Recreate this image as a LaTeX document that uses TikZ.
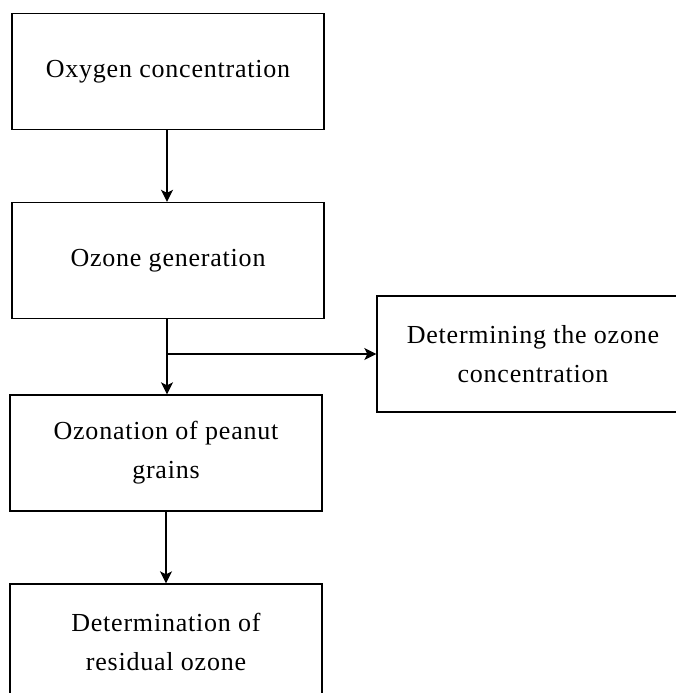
\documentclass[tikz,border=0pt]{standalone}
\usepackage{fontspec}
\setmainfont{Liberation Serif}[LetterSpace=3]
\usetikzlibrary{arrows.meta}
\begin{document}
\begin{tikzpicture}[x=1pt,y=1pt,
  box/.style={draw, line width=1.4pt, minimum width=312pt, minimum height=116pt,
    inner sep=0pt, align=center, font=\fontsize{26}{39}\selectfont},
  arr/.style={line width=1.4pt, -{Stealth[length=12pt,width=12pt,inset=3pt]}},
  ln/.style={line width=1.4pt}]
\useasboundingbox (0,0) rectangle (676,-693);
\node[box] (b1) at (168,-71.25) {Oxygen concentration};
\node[box] (b2) at (168,-260.5) {Ozone generation};
\node[box] (b3) at (533,-354) {Determining the ozone\\concentration};
\node[box] (b4) at (166,-453) {Ozonation of peanut\\grains};
\node[box] (b5) at (166,-642) {Determination of\\residual ozone};
\coordinate (br) at (167,-354);
\draw[arr] (b1.south -| br) -- (b2.north -| br);
\draw[arr] (b2.south -| br) -- (b4.north -| br);
\draw[arr] (br) -- (b3.west);
\draw[arr] (b4.south -| b4) -- (b5.north);
\end{tikzpicture}
\end{document}
